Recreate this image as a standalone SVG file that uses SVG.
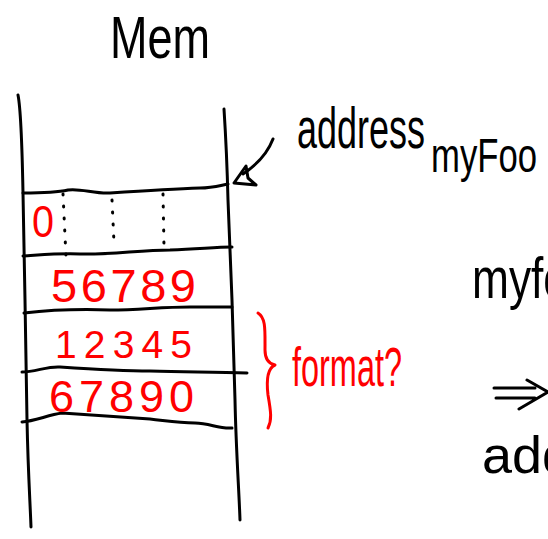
<svg xmlns="http://www.w3.org/2000/svg" width="548" height="539" viewBox="0 0 548 539">
<defs>
<style>
.ink{fill:none;stroke:#000;stroke-width:3;stroke-linecap:round;stroke-linejoin:round}
.red{fill:none;stroke:#f00;stroke-width:3;stroke-linecap:round;stroke-linejoin:round}
.dot{fill:none;stroke:#000;stroke-width:3;stroke-linecap:round;stroke-dasharray:1 11}
.t{font-family:"Liberation Sans","DejaVu Sans",sans-serif;fill:#000}
.r{font-family:"Liberation Sans","DejaVu Sans",sans-serif;fill:#f00}
</style>
</defs>
<rect width="548" height="539" fill="#fff"/>
<g id="title"><text class="t" x="110" y="58" font-size="60" textLength="100" lengthAdjust="spacingAndGlyphs">Mem</text></g>
<g id="memory">
<path class="ink" d="M18,95 C21,110 22,140 23,193 L25,300 L27,420 C28,470 30,500 31,527"/>
<path class="ink" d="M224,109 C226,140 227,160 228,200 L232,300 L235,400 C236,450 239,490 240,520"/>
<path class="ink" d="M23,193 C40,193 55,193 68,190 C80,188 95,194 110,193 C140,191 170,189 200,188 C212,188 218,186 228,184"/>
<path class="ink" d="M23,256 C40,255 60,253 80,254 C110,255 140,250 170,250 C200,249 215,247 232,247"/>
<path class="ink" d="M24,313 C50,310 80,309 110,310 C140,310 160,307 190,307 C210,307 222,307 232,307"/>
<path class="ink" d="M22,372 C35,372 48,366 60,367 C90,369 120,371 150,371 C190,372 215,372 247,373"/>
<path class="ink" d="M22,422 C35,421 48,415 62,413 C90,415 120,417 150,419 C168,421 178,423 195,423 C210,423 218,429 232,428"/>
<path class="dot" d="M63,194 L66,257"/>
<path class="dot" d="M112,200 L114,243"/>
<path class="dot" d="M163,194 L164,247"/>
</g>
<g id="values">
<text class="r" x="32" y="237" font-size="45" textLength="22" lengthAdjust="spacingAndGlyphs">0</text>
<text class="r" x="51" y="302" font-size="47" textLength="145" lengthAdjust="spacing">56789</text>
<text class="r" x="55" y="358" font-size="39" textLength="137" lengthAdjust="spacing">12345</text>
<text class="r" x="49" y="412" font-size="45" textLength="145" lengthAdjust="spacing">67890</text>
</g>
<g id="format">
<path class="red" d="M258,313 C266,318 265,330 265,350 C265,360 270,364 275,365 C268,368 266,378 268,395 C271,412 272,420 268,428"/>
<text class="r" x="292" y="386" font-size="56" textLength="110" lengthAdjust="spacingAndGlyphs">format?</text>
</g>
<g id="address-label">
<text class="t" x="297" y="148" font-size="58" textLength="128" lengthAdjust="spacingAndGlyphs">address</text>
<text class="t" x="431" y="172" font-size="48" textLength="106" lengthAdjust="spacingAndGlyphs">myFoo</text>
</g>
<g id="connectors">
<path class="ink" d="M273,139 C268,152 258,164 243,174"/>
<path class="ink" d="M234,183 L246,166 L248,178 L256,185 Z"/>
</g>
<g id="right-side">
<text class="t" x="472" y="298" font-size="58" textLength="96" lengthAdjust="spacingAndGlyphs">myfo</text>
<path class="ink" d="M494,388 L535,388 M496,398 L535,398 M527,380 L548,392 L519,409"/>
<text class="t" x="482" y="473" font-size="52" textLength="90" lengthAdjust="spacingAndGlyphs">add</text>
</g>
</svg>
